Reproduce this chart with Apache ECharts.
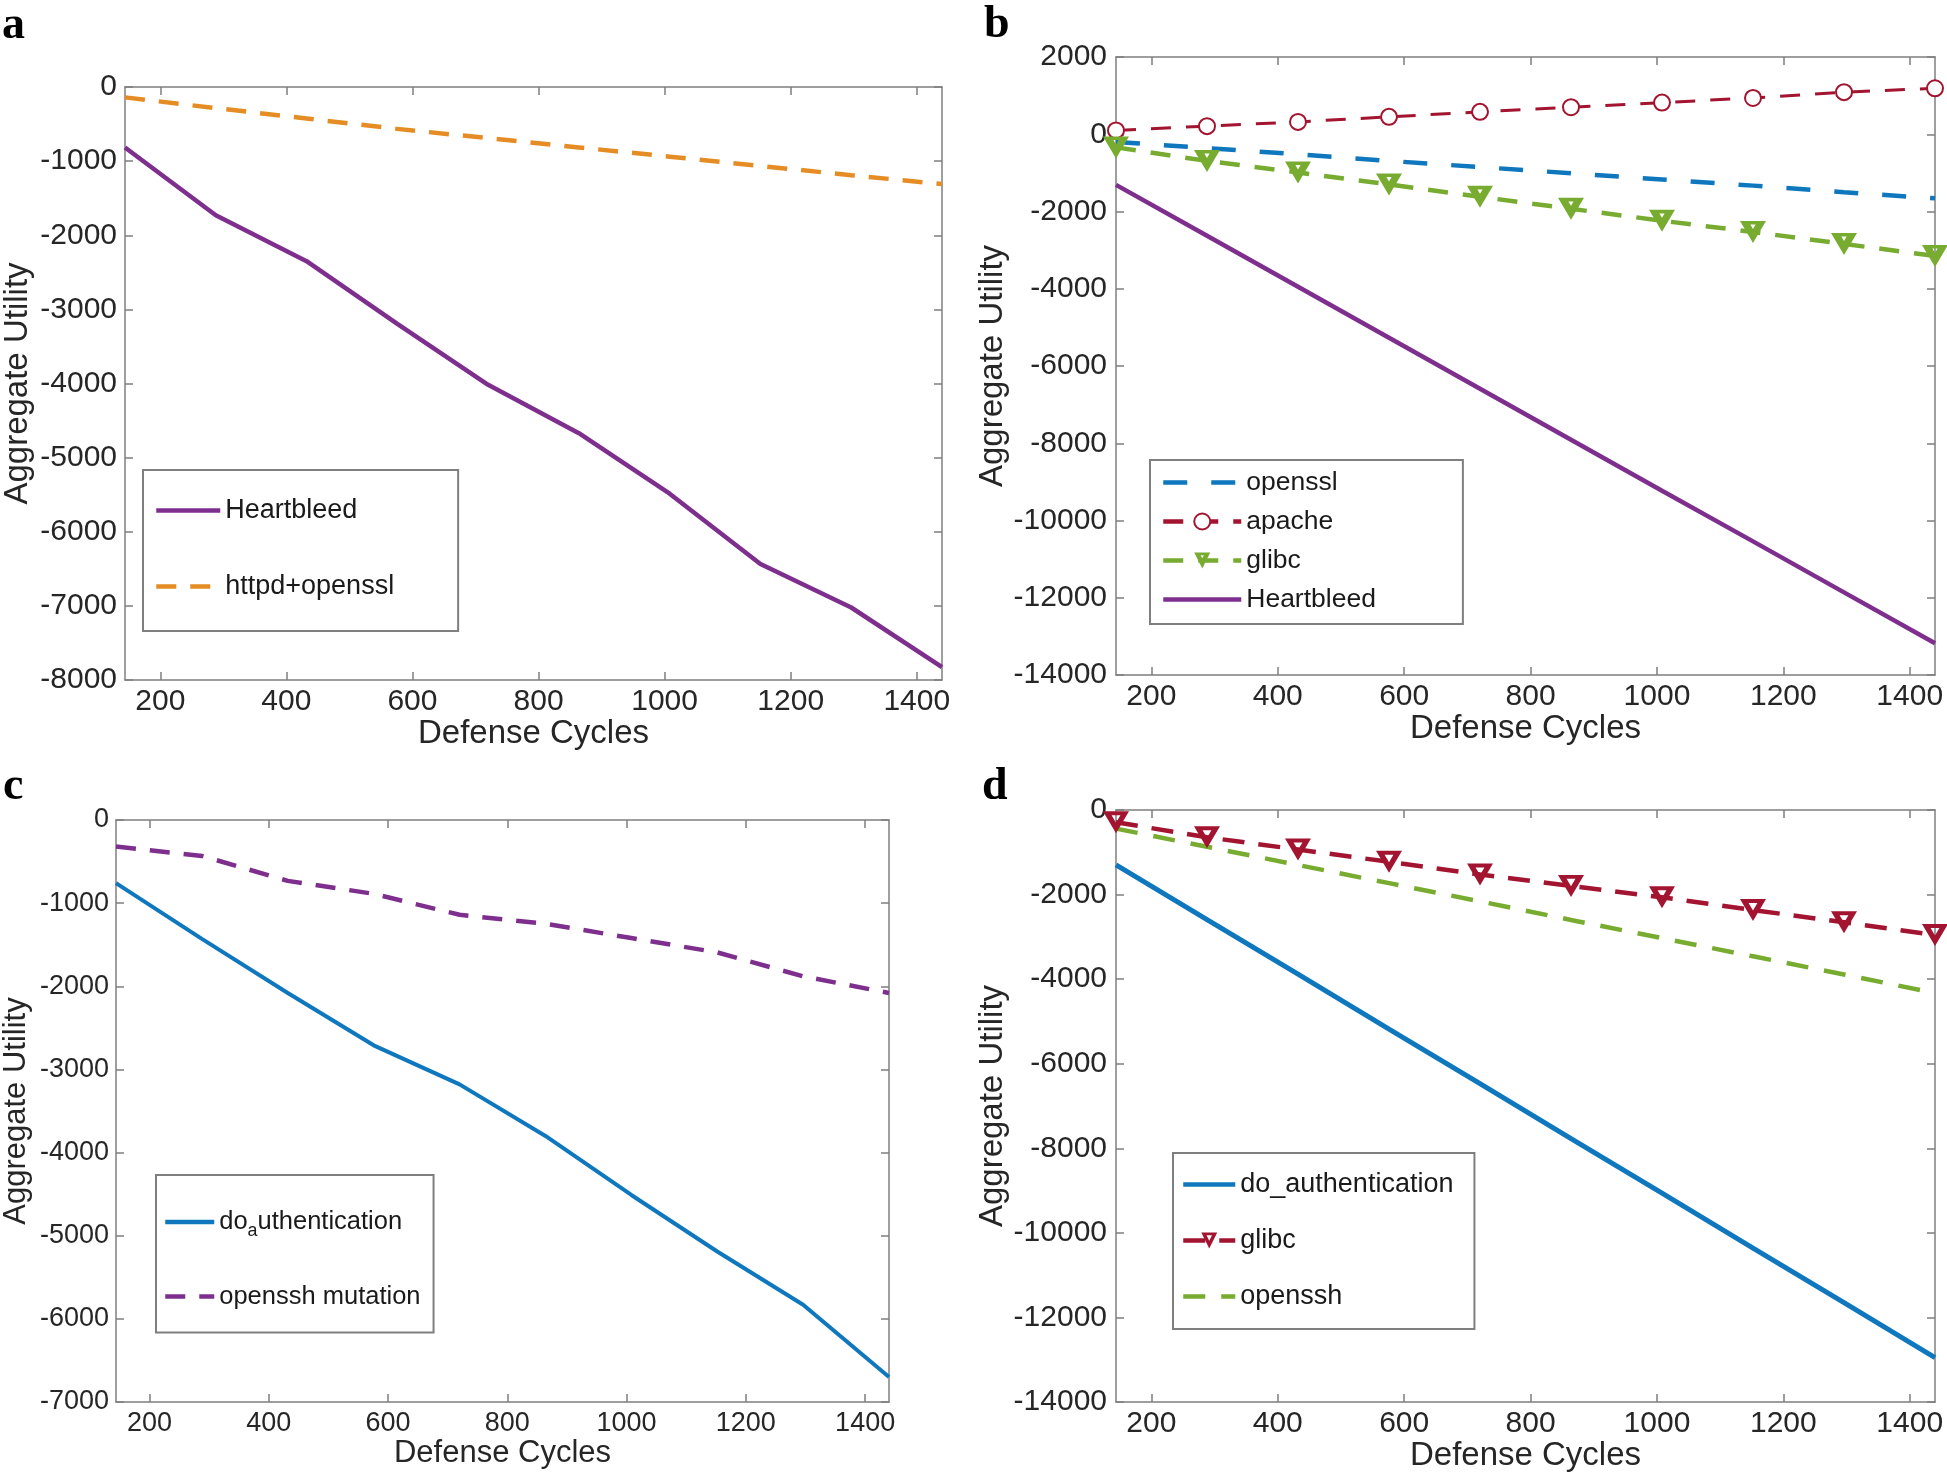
<!DOCTYPE html>
<html>
<head>
<meta charset="utf-8">
<script src="https://cdn.jsdelivr.net/npm/echarts@6/dist/echarts.min.js"></script>
<style>
  html, body { margin: 0; padding: 0; background: #fff; }
  #chart { width: 1947px; height: 1476px; }
</style>
</head>
<body>
<div id="chart"></div>
<script>
// x values shared by all four panels
const cycles = [144, 288, 432, 576, 720, 864, 1008, 1152, 1296, 1440];
const xTicks = [200, 400, 600, 800, 1000, 1200, 1400];

// panel a
const aHeartbleed = [-816, -1730, -2350, -3195, -4017, -4670, -5487, -6434, -7022, -7825];
const aHttpdOpenssl = [-140, -285, -425, -565, -690, -815, -940, -1065, -1190, -1310];

// panel b
const bOpenssl = [-200, -360, -520, -690, -850, -1010, -1170, -1330, -1500, -1660];
const bApache = [100, 210, 320, 450, 580, 700, 820, 940, 1090, 1190];
const bGlibc = [-340, -690, -990, -1300, -1620, -1930, -2240, -2530, -2840, -3150];
const bHeartbleed = [-1310, -2630, -3950, -5270, -6590, -7910, -9230, -10540, -11860, -13180];

// panel c
const cDoAuth = [-760, -1430, -2080, -2710, -3180, -3800, -4510, -5190, -5830, -6700];
const cOpensshMutation = [-320, -432, -732, -888, -1140, -1248, -1420, -1592, -1880, -2080];

// panel d
const dDoAuth = [-1300, -2590, -3880, -5180, -6470, -7770, -9060, -10360, -11650, -12950];
const dGlibc = [-290, -645, -935, -1225, -1527, -1796, -2065, -2365, -2656, -2957];
const dOpenssh = [-440, -870, -1300, -1730, -2160, -2600, -3030, -3460, -3890, -4330];

const PURPLE = '#7E2F8E', ORANGE = '#E58D24', BLUE = '#0E77BD', RED = '#A2142F', GREEN = '#77AC30';
const BOX = '#7f7f7f', TXT = '#262626';

// downward triangles with a hole in the middle (thick outline look)
const TRI_B = 'path://M0,0L20,0L10,17Z M8,2.8L10,6.2L12,2.8Z';
const TRI_D = 'path://M0,0L20,0L10,17Z M6.6,3L10,8.8L13.4,3Z';

function pairs(ys) {
    return cycles.map((x, i) => [x, ys[i]]);
}

// panel geometry and fonts
const panels = [
    { left: 122, top: 87, width: 820, height: 593, yMin: -8000, yMax: 0, yStep: 1000,
      tick: 30, title: 33, xm: 7, xg: 35, ym: 8, yg: 91 },
    { left: 1116, top: 57, width: 819, height: 618, yMin: -14000, yMax: 2000, yStep: 2000,
      tick: 30, title: 33, xm: 7, xg: 35, ym: 9, yg: 105 },
    { left: 114, top: 820, width: 775, height: 582, yMin: -7000, yMax: 0, yStep: 1000,
      tick: 27, title: 31, xm: 8, xg: 34, ym: 7, yg: 84 },
    { left: 1116, top: 810, width: 819, height: 592, yMin: -14000, yMax: 0, yStep: 2000,
      tick: 30, title: 33, xm: 7, xg: 35, ym: 9, yg: 105 }
];

const grids = [], xAxes = [], yAxes = [];
panels.forEach(function (p, i) {
    grids.push({ left: p.left, top: p.top, width: p.width, height: p.height, containLabel: false });
    const line = { show: true, onZero: false, lineStyle: { color: BOX, width: 1.5 } };
    const tick = { show: true, inside: true, length: 8, customValues: xTicks, lineStyle: { color: BOX, width: 1.5 } };
    // bottom axis with labels
    xAxes.push({
        type: 'value', gridIndex: i, min: 144, max: 1440, position: 'bottom',
        axisLine: line, axisTick: tick, splitLine: { show: false },
        axisLabel: { customValues: xTicks, fontSize: p.tick, color: TXT, margin: p.xm,
                     fontFamily: 'Liberation Sans', formatter: v => String(v) },
        name: 'Defense Cycles', nameLocation: 'middle', nameGap: p.xg,
        nameTextStyle: { fontSize: p.title, color: TXT, fontFamily: 'Liberation Sans' }
    });
    // top axis, ticks only
    xAxes.push({
        type: 'value', gridIndex: i, min: 144, max: 1440, position: 'top',
        axisLine: line, axisTick: tick, splitLine: { show: false }, axisLabel: { show: false }
    });
    const ytick = { show: true, inside: true, length: 8, lineStyle: { color: BOX, width: 1.5 } };
    yAxes.push({
        type: 'value', gridIndex: i, min: p.yMin, max: p.yMax, interval: p.yStep, position: 'left',
        axisLine: line, axisTick: ytick, splitLine: { show: false },
        axisLabel: { fontSize: p.tick, color: TXT, margin: p.ym, fontFamily: 'Liberation Sans',
                     formatter: v => String(v) },
        name: 'Aggregate Utility', nameLocation: 'middle', nameGap: p.yg,
        nameTextStyle: { fontSize: p.title, color: TXT, fontFamily: 'Liberation Sans' }
    });
    yAxes.push({
        type: 'value', gridIndex: i, min: p.yMin, max: p.yMax, interval: p.yStep, position: 'right',
        axisLine: line, axisTick: ytick, splitLine: { show: false }, axisLabel: { show: false }
    });
});

function makeSeries(panel, name, ys, color, dash, width, marker) {
    const s = {
        type: 'line', name: name, xAxisIndex: panel * 2, yAxisIndex: panel * 2,
        data: pairs(ys), clip: false, silent: true,
        lineStyle: { color: color, width: width, type: dash },
        itemStyle: { color: color },
        symbol: 'none'
    };
    if (marker) {
        s.symbol = marker.symbol;
        s.symbolSize = marker.size;
        s.showSymbol = true;
        s.itemStyle.borderWidth = marker.border || 0;
    }
    return s;
}

const series = [
    makeSeries(0, 'a:Heartbleed', aHeartbleed, PURPLE, 'solid', 4.5),
    makeSeries(0, 'a:httpd+openssl', aHttpdOpenssl, ORANGE, [20, 14], 4.5),

    makeSeries(1, 'b:openssl', bOpenssl, BLUE, [24, 24], 4.5),
    makeSeries(1, 'b:apache', bApache, RED, [20, 15], 3,
        { symbol: 'emptyCircle', size: 16, border: 2.5 }),
    makeSeries(1, 'b:glibc', bGlibc, GREEN, [20, 15], 4.5,
        { symbol: TRI_B, size: [26, 22] }),
    makeSeries(1, 'b:Heartbleed', bHeartbleed, PURPLE, 'solid', 4.5),

    makeSeries(2, 'c:do_authentication', cDoAuth, BLUE, 'solid', 4),
    makeSeries(2, 'c:openssh mutation', cOpensshMutation, PURPLE, [20, 14], 4.5),

    makeSeries(3, 'd:do_authentication', dDoAuth, BLUE, 'solid', 5),
    makeSeries(3, 'd:glibc', dGlibc, RED, [22, 14], 4.5,
        { symbol: TRI_D, size: [26, 22] }),
    makeSeries(3, 'd:openssh', dOpenssh, GREEN, [22, 16], 4.5)
];

// legend entries; lines without markers get an invisible icon symbol
function item(name, hasMarker) {
    return hasMarker ? { name: name } : { name: name, itemStyle: { opacity: 0 } };
}

function legend(items, left, top, padding, gap, iconW, font, fmt) {
    return {
        data: items, orient: 'vertical', left: left, top: top, padding: padding,
        itemGap: gap, itemWidth: iconW, itemHeight: 20,
        borderColor: BOX, borderWidth: 2, borderRadius: 0, backgroundColor: '#fff',
        selectedMode: false,
        lineStyle: { width: 4.5 },
        textStyle: {
            fontSize: font, color: '#1a1a1a', fontFamily: 'Liberation Sans',
            rich: { sub: { fontSize: font * 0.7, color: '#1a1a1a', fontFamily: 'Liberation Sans',
                           padding: [font * 0.75, 0, 0, 0] } }
        },
        formatter: fmt || (n => n.split(':')[1])
    };
}

const legends = [
    legend([item('a:Heartbleed'), item('a:httpd+openssl')],
        143, 470, [27, 64, 31, 11], 49, 64, 27),
    legend([item('b:openssl'), item('b:apache', true), item('b:glibc', true), item('b:Heartbleed')],
        1150, 460, [9, 87, 11, 11], 12, 78, 26.5),
    legend([item('c:do_authentication'), item('c:openssh mutation')],
        156, 1175, [34, 13, 23, 7], 43, 49, 25.5,
        n => n === 'c:do_authentication' ? 'do{sub|a}uthentication' : n.split(':')[1]),
    legend([item('d:do_authentication'), item('d:glibc', true), item('d:openssh')],
        1173, 1153, [18, 21, 19, 8], 29, 52, 27)
];

// panel letters
const letterFont = 'bold 46px "Liberation Serif"';
const graphics = [
    { type: 'text', left: 2, top: 3, style: { text: 'a', font: letterFont, fill: '#000' } },
    { type: 'text', left: 984, top: 2, style: { text: 'b', font: letterFont, fill: '#000' } },
    { type: 'text', left: 3, top: 764, style: { text: 'c', font: letterFont, fill: '#000' } },
    { type: 'text', left: 982, top: 764, style: { text: 'd', font: letterFont, fill: '#000' } }
];

const chart = echarts.init(document.getElementById('chart'));
chart.setOption({
    animation: false,
    backgroundColor: '#fff',
    grid: grids,
    xAxis: xAxes,
    yAxis: yAxes,
    legend: legends,
    graphic: graphics,
    series: series
});
</script>
</body>
</html>
